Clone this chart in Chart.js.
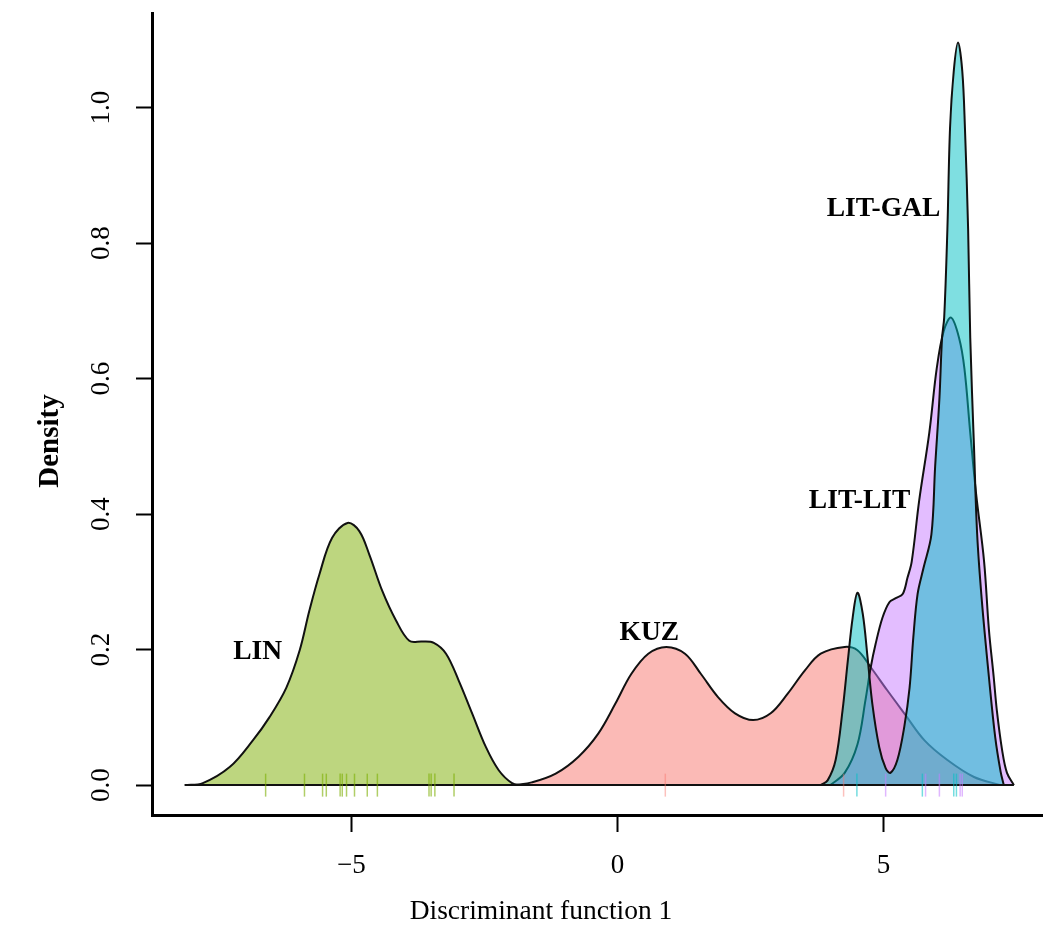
<!DOCTYPE html>
<html>
<head>
<meta charset="utf-8">
<script src="https://cdn.jsdelivr.net/npm/chart.js@4.4.1/dist/chart.umd.min.js"></script>
<style>
  html, body { margin: 0; padding: 0; background: #fff; }
  canvas { display: block; }
</style>
</head>
<body>
<canvas id="densChart" width="1055" height="935"></canvas>
<script>
const SERIF = '"Liberation Serif", "Times New Roman", serif';

// --- Data ---

const groups = ['LIN', 'KUZ', 'LIT-LIT', 'LIT-GAL'];

const linX = [-8.13, -7.79, -7.28, -6.85, -6.54, -6.22, -5.97, -5.79, -5.6, -5.36, -5.07, -4.85, -4.66,
              -4.42, -4.16, -3.91, -3.67, -3.45, -3.22, -2.98, -2.73, -2.47, -2.23, -1.98, -1.8];
const linY = [0, 0.003, 0.027, 0.066, 0.1, 0.144, 0.199, 0.257, 0.311, 0.365, 0.387, 0.375, 0.34,
              0.287, 0.243, 0.213, 0.212, 0.21, 0.194, 0.154, 0.106, 0.056, 0.022, 0.003, 0];

const kuzX = [-1.91, -1.61, -1.16, -0.73, -0.36, -0.04, 0.26, 0.58, 0.92, 1.27, 1.57, 1.89, 2.21, 2.55,
              2.88, 3.2, 3.52, 3.82, 4.27, 4.51, 4.76, 5.07, 5.39, 5.77, 6.2, 6.7, 7.2];
const kuzY = [0, 0.004, 0.017, 0.042, 0.076, 0.12, 0.164, 0.194, 0.204, 0.194, 0.164, 0.13, 0.106, 0.096,
              0.106, 0.135, 0.169, 0.194, 0.204, 0.199, 0.174, 0.14, 0.106, 0.066, 0.037, 0.012, 0];

const litlitX = [4.0, 4.27, 4.51, 4.66, 4.76, 4.85, 4.98, 5.11, 5.23, 5.36, 5.45, 5.53, 5.67, 5.86, 6.0,
                 6.13, 6.27, 6.42, 6.52, 6.63, 6.74, 6.89, 6.98, 7.07, 7.13, 7.23, 7.32, 7.45];
const litlitY = [0, 0.018, 0.06, 0.125, 0.174, 0.208, 0.247, 0.27, 0.276, 0.282, 0.306, 0.33, 0.42, 0.52, 0.615,
                 0.67, 0.69, 0.66, 0.615, 0.52, 0.43, 0.33, 0.23, 0.16, 0.11, 0.051, 0.018, 0];

const litgalX = [3.82, 3.95, 4.1, 4.23, 4.33, 4.42, 4.51, 4.61, 4.7, 4.79, 4.92, 5.04, 5.13, 5.26, 5.39,
                 5.49, 5.56, 5.64, 5.75, 5.9, 5.97, 6.05, 6.1, 6.14, 6.2, 6.25, 6.32, 6.4, 6.48, 6.53,
                 6.59, 6.63, 6.7, 6.76, 6.85, 6.98, 7.1, 7.2, 7.26];
const litgalY = [0, 0.007, 0.037, 0.11, 0.184, 0.247, 0.284, 0.253, 0.189, 0.12, 0.056, 0.025, 0.018, 0.037, 0.086,
                 0.144, 0.218, 0.282, 0.32, 0.37, 0.47, 0.57, 0.66, 0.69, 0.82, 0.97, 1.054, 1.096, 1.054, 0.97,
                 0.82, 0.66, 0.5, 0.37, 0.27, 0.16, 0.07, 0.02, 0];

// rug marks (individual scores)
const linRug = [-6.61, -5.88, -5.54, -5.47, -5.21, -5.17, -5.09, -4.94, -4.70, -4.51, -3.54, -3.50, -3.43, -3.07];
const kuzRug = [0.9, 4.25];
const litlitRug = [5.04, 5.79, 6.05, 6.44, 6.48];
const litgalRug = [4.5, 5.73, 6.32, 6.37];

const xTicks = [-5, 0, 5];
const yTicks = [0, 0.2, 0.4, 0.6, 0.8, 1.0];

// --- Styling ---

const fills = ['rgba(124,174,0,0.5)', 'rgba(248,118,109,0.5)', 'rgba(199,124,255,0.5)', 'rgba(0,191,196,0.5)'];
const rugColors = ['rgba(124,174,0,0.6)', 'rgba(248,118,109,0.45)', 'rgba(199,124,255,0.55)', 'rgba(0,191,196,0.55)'];

const curves = [[linX, linY], [kuzX, kuzY], [litlitX, litlitY], [litgalX, litgalY]];
const rugs = [linRug, kuzRug, litlitRug, litgalRug];

const toPts = (xs, ys) => xs.map((x, i) => ({ x, y: ys[i] }));

const datasets = [];
curves.forEach(([xs, ys], i) => {
    // density polygon, drawn in group order (later groups on top)
    datasets.push({
        label: groups[i],
        data: toPts(xs, ys),
        borderColor: '#111',
        borderWidth: 2,
        backgroundColor: fills[i],
        fill: 'origin',
        pointRadius: 0,
        tension: 0.35,
        order: 20 - i * 2,
    });
    // closing edge of the polygon along y = 0
    datasets.push({
        label: groups[i] + ' base',
        data: [{ x: xs[0], y: 0 }, { x: xs[xs.length - 1], y: 0 }],
        borderColor: '#111',
        borderWidth: 2,
        fill: false,
        pointRadius: 0,
        order: 19 - i * 2,
    });
});
rugs.forEach((r, i) => {
    datasets.push({
        type: 'scatter',
        label: groups[i] + ' rug',
        data: r.map(x => ({ x, y: 0 })),
        showLine: false,
        pointStyle: 'line',
        rotation: 90,
        pointRadius: 11.5,
        pointBorderWidth: 1.5,
        pointBorderColor: rugColors[i],
        order: 1,
    });
});

// --- Text drawn on top: rotated y labels, axis titles, group names ---

const textPlugin = {
    id: 'texts',
    afterDraw(chart) {
        const { ctx, scales } = chart;
        ctx.save();
        ctx.fillStyle = '#000';
        ctx.textAlign = 'center';
        ctx.textBaseline = 'middle';

        // y tick labels, rotated like R's default
        ctx.font = `27px ${SERIF}`;
        yTicks.forEach(v => {
            const y = scales.y.getPixelForValue(v);
            ctx.save();
            ctx.translate(102, y);
            ctx.rotate(-Math.PI / 2);
            ctx.fillText(v.toFixed(1), 0, 0);
            ctx.restore();
        });

        // axis titles
        ctx.font = `bold 29px ${SERIF}`;
        ctx.save();
        ctx.translate(51, 441);
        ctx.rotate(-Math.PI / 2);
        ctx.fillText('Density', 0, 0);
        ctx.restore();

        ctx.font = `27.5px ${SERIF}`;
        ctx.fillText('Discriminant function 1', 541, 912);

        // group names
        const labelAt = { 'LIN': [-6.76, 0.196], 'KUZ': [0.6, 0.225], 'LIT-GAL': [5.0, 0.85], 'LIT-LIT': [4.55, 0.419] };
        ctx.font = `bold 27.5px ${SERIF}`;
        Object.entries(labelAt).forEach(([name, [lx, ly]]) => {
            ctx.fillText(name, scales.x.getPixelForValue(lx), scales.y.getPixelForValue(ly));
        });
        ctx.restore();
    }
};

new Chart(document.getElementById('densChart'), {
    type: 'line',
    data: { datasets },
    options: {
        responsive: false,
        devicePixelRatio: 1,
        animation: false,
        layout: { padding: { top: 10, right: 10, left: 0, bottom: 0 } },
        plugins: { legend: { display: false }, tooltip: { enabled: false } },
        scales: {
            x: {
                type: 'linear',
                min: -8.745,
                max: 7.978,
                afterBuildTicks: s => { s.ticks = xTicks.map(v => ({ value: v })); },
                afterFit: s => { s.height = 120; },
                ticks: {
                    color: '#000',
                    font: { family: SERIF, size: 27 },
                    padding: 18,
                    maxRotation: 0,
                    callback: v => v < 0 ? '\u2212' + Math.abs(v) : String(v),
                },
                grid: { drawOnChartArea: false, drawTicks: true, tickLength: 17, tickWidth: 2, tickColor: '#000' },
                border: { display: true, width: 3, color: '#000' },
            },
            y: {
                type: 'linear',
                min: -0.0441,
                max: 1.1397,
                afterBuildTicks: s => { s.ticks = yTicks.map(v => ({ value: v })); },
                afterFit: s => { s.width = 152; },
                ticks: { display: false },
                grid: { drawOnChartArea: false, drawTicks: true, tickLength: 16, tickWidth: 2, tickColor: '#000' },
                border: { display: true, width: 3, color: '#000' },
            }
        }
    },
    plugins: [textPlugin]
});
</script>
</body>
</html>
